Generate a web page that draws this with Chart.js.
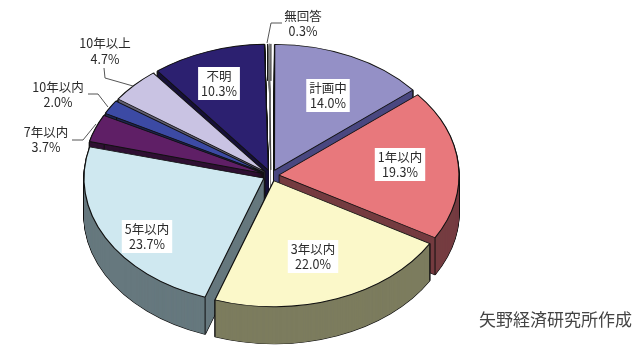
<!DOCTYPE html>
<html lang="ja">
<head>
<meta charset="utf-8">
<title>矢野経済研究所作成</title>
<script src="https://cdn.jsdelivr.net/npm/chart.js@4"></script>
<style>
    html, body { margin: 0; padding: 0; background: #fff; }
    canvas { display: block; }
</style>
</head>
<body>
<canvas id="pie" width="640" height="359"></canvas>
<script>
// Chart data
const categories = ['計画中', '1年以内', '3年以内', '5年以内', '7年以内', '10年以内', '10年以上', '不明', '無回答'];
const shares = [14.0, 19.3, 22.0, 23.7, 3.7, 2.0, 4.7, 10.3, 0.3];
const sourceNote = '矢野経済研究所作成';

// Colours
const topColors = ['#9490c6', '#e8787c', '#fbf8c9', '#cfe8f0', '#5f1f66', '#3c4aa4', '#c9c3e3', '#2c2070', '#f6f6f6'];
const wallColors = ['#4a4880', '#753c40', '#7c7c5e', '#66787e', '#2f1033', '#1e2552', '#646172', '#161038', '#8a8a8a'];
const borderWidths = [1.2, 1.2, 1.2, 1.2, 1.2, 1.2, 1.2, 1.2, 0.5];
const rimWidths = [1.4, 1.4, 1.4, 1.4, 1.4, 1.4, 1.4, 1.4, 0];

// Look of the tilted pie
const TILT = 0.7;
const DEPTH = 37;
const RADIUS = 180;
const EXPLODE = 32; // Chart.js moves an arc by offset / 4

// Label placement: centre x, first line y, second line y, white box or not
const labelSpots = [
    [328, 88, 103, true],
    [400, 157, 172, true],
    [313, 249, 264, true],
    [147, 229, 244, true],
    [46, 132, 147, false],
    [58, 87, 102, false],
    [105, 43, 59, false],
    [219, 76, 91, true],
    [303, 16, 31, false]
];

// Leader lines for the labels outside the pie
const leaderLines = [
    [[72, 140], [83, 140], [96, 124]],
    [[88, 94], [98, 94], [108, 107]],
    [[104, 68], [105, 78], [133, 86]],
    [[282, 23], [271, 23], [267, 43]]
];

function withColors(arc, fill, stroke, width, paint) {
    const original = arc.options;
    arc.options = { ...original, backgroundColor: fill, borderColor: stroke, borderWidth: width };
    paint();
    arc.options = original;
}

function drawArcAt(ctx, arc, drop) {
    ctx.save();
    ctx.translate(arc.x, arc.y + drop);
    ctx.scale(1, TILT);
    ctx.translate(-arc.x, -arc.y);
    arc.draw(ctx);
    ctx.restore();
}

// Vertical edge below an outer corner of a slice
function drawCornerEdge(ctx, arc, angle) {
    const mid = (arc.startAngle + arc.endAngle) / 2;
    const shift = EXPLODE / 4;
    const x = arc.x + Math.cos(mid) * shift + Math.cos(angle) * RADIUS;
    const y = arc.y + TILT * (Math.sin(mid) * shift + Math.sin(angle) * RADIUS);
    ctx.beginPath();
    ctx.moveTo(x, y);
    ctx.lineTo(x, y + DEPTH);
    ctx.stroke();
}

function drawSlice(ctx, arc, index) {
    // Black rim of the wall first, the fill goes over it
    withColors(arc, '#111', '#111', rimWidths[index], () => {
        for (let drop = DEPTH; drop > 0; drop -= 1) drawArcAt(ctx, arc, drop);
    });
    withColors(arc, wallColors[index], wallColors[index], 0, () => {
        for (let drop = DEPTH; drop > 0; drop -= 1) drawArcAt(ctx, arc, drop);
    });

    ctx.save();
    ctx.strokeStyle = '#111';
    ctx.lineWidth = 1;
    drawCornerEdge(ctx, arc, arc.startAngle);
    drawCornerEdge(ctx, arc, arc.endAngle);
    ctx.restore();

    // Top face
    drawArcAt(ctx, arc, 0);
}

const tiltedPie = {
    id: 'tiltedPie',
    // Paint the slices ourselves, back to front
    beforeDatasetDraw(chart, args) {
        const ctx = chart.ctx;
        const arcs = args.meta.data.map((arc, index) => ({ arc, index }));

        // Arc.draw grows narrow exploded slices, take that back so the rim stays round
        arcs.forEach(({ arc }) => {
            const fix = 1 - Math.sin(Math.min(Math.PI, arc.circumference));
            arc.outerRadius = RADIUS - (EXPLODE / 4) * fix;
        });

        arcs.sort((a, b) => {
            const midA = (a.arc.startAngle + a.arc.endAngle) / 2;
            const midB = (b.arc.startAngle + b.arc.endAngle) / 2;
            return Math.sin(midA) - Math.sin(midB);
        });
        arcs.forEach(({ arc, index }) => drawSlice(ctx, arc, index));
        return false;
    },
    afterDraw(chart) {
        const ctx = chart.ctx;
        ctx.save();

        // Leader lines
        ctx.strokeStyle = '#555';
        ctx.lineWidth = 1;
        leaderLines.forEach(points => {
            ctx.beginPath();
            points.forEach(([x, y], i) => (i ? ctx.lineTo(x, y) : ctx.moveTo(x, y)));
            ctx.stroke();
        });

        // Slice labels
        ctx.font = "12.5px 'Noto Sans CJK JP'";
        ctx.textAlign = 'center';
        ctx.textBaseline = 'middle';
        categories.forEach((name, i) => {
            const [x, y1, y2, boxed] = labelSpots[i];
            const value = `${shares[i].toFixed(1)}%`;
            if (boxed) {
                const width = Math.max(ctx.measureText(name).width, ctx.measureText(value).width) + 6;
                ctx.fillStyle = '#fff';
                ctx.fillRect(x - width / 2, y1 - 9, width, y2 - y1 + 18);
            }
            ctx.fillStyle = '#2a2a2a';
            ctx.fillText(name, x, y1);
            ctx.fillText(value, x, y2);
        });

        // Source note
        ctx.font = "17px 'Noto Sans CJK JP'";
        ctx.fillStyle = '#444';
        ctx.textAlign = 'right';
        ctx.fillText(sourceNote, 632, 320);
        ctx.restore();
    }
};

new Chart(document.getElementById('pie'), {
    type: 'pie',
    data: {
        labels: categories,
        datasets: [{
            data: shares,
            backgroundColor: topColors,
            borderColor: '#111',
            borderWidth: borderWidths,
            offset: EXPLODE
        }]
    },
    options: {
        responsive: false,
        animation: false,
        events: [],
        radius: RADIUS,
        layout: { padding: { right: 98, bottom: 8 } },
        plugins: {
            legend: { display: false },
            tooltip: { enabled: false }
        }
    },
    plugins: [tiltedPie]
});
</script>
</body>
</html>
